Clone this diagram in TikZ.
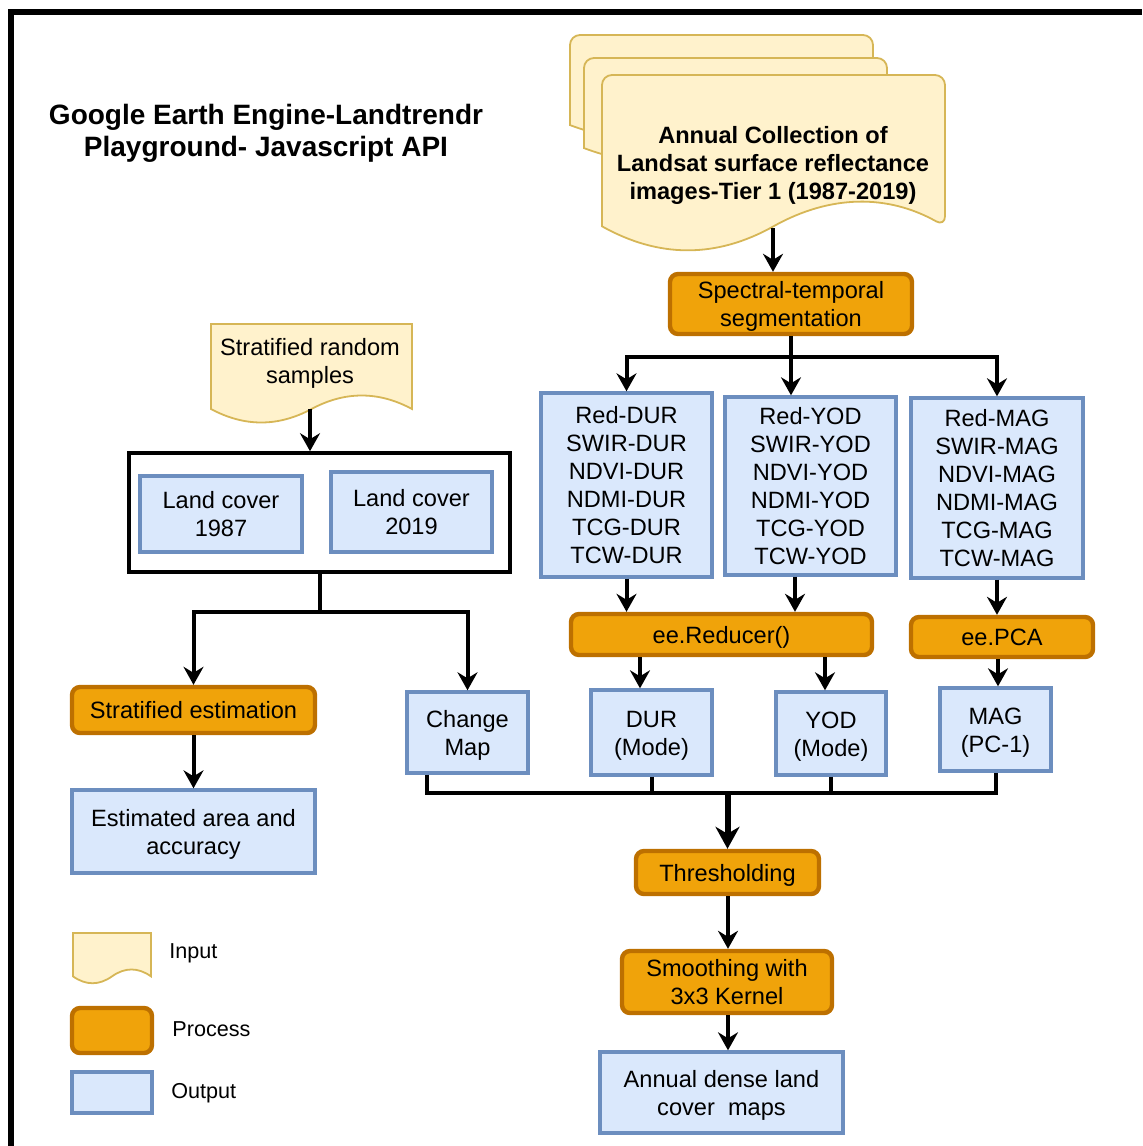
\documentclass[tikz,border=0pt]{standalone}
\usepackage{fontspec}
\setmainfont{Liberation Sans}
\usetikzlibrary{arrows.meta,calc}
\definecolor{inF}{HTML}{FFF2CC}
\definecolor{inD}{HTML}{D6B656}
\definecolor{prF}{HTML}{F0A30A}
\definecolor{prD}{HTML}{BD7000}
\definecolor{ouF}{HTML}{DAE8FC}
\definecolor{ouD}{HTML}{6C8EBF}
% document shape: x, y(top), w, h  (pixel units)
\newcommand\mydocpath[4]{(#1,#2+0.85*#4) [rounded corners=\docr] -- (#1,#2) -- (#1+#3,#2) -- (#1+#3,#2+0.85*#4) [sharp corners] .. controls (#1+5*#3/6,#2+0.67*#4) and (#1+2*#3/3,#2+0.67*#4) .. (#1+#3/2,#2+0.85*#4) .. controls (#1+#3/3,#2+1.03*#4) and (#1+#3/6,#2+1.03*#4) .. (#1,#2+0.85*#4) -- cycle}
\def\docr{0pt}
% text lowered slightly inside its box
\newcommand\tx[1]{\raisebox{-1.5pt}[\height][\depth]{\begin{tabular}{@{}c@{}}#1\end{tabular}}}
\tikzset{
  base/.style={inner sep=0pt, align=center, font=\fontsize{11.8}{14}\selectfont},
  outbox/.style={base, draw=ouD, fill=ouF, line width=1.7pt},
  procbox/.style={base, draw=prD, fill=prF, line width=2.2pt, rounded corners=4pt},
  indoc/.style={draw=inD, fill=inF, line width=0.9pt},
  ln/.style={line width=2pt, black},
  arr/.style={ln, -{Stealth[length=9pt,width=10pt,inset=3pt]}},
  bigarr/.style={line width=3pt, black, -{Stealth[length=11pt,width=12pt,inset=3.5pt]}},
  legtext/.style={anchor=west, inner sep=0pt, font=\fontsize{10.8}{13}\selectfont},
}
\begin{document}
\begin{tikzpicture}[x=0.5pt,y=-0.5pt]
\useasboundingbox (0,0) rectangle (1142,1146);
% frame
\draw[line width=3pt] (11,1146) -- (11,12) -- (1142,12);
% title
\node[base, font=\bfseries\fontsize{14}{16}\selectfont] (title) at (266,133) {Google Earth Engine-Landtrendr\\Playground- Javascript API};
% stacked input documents
\def\docr{5pt}
\draw[indoc] \mydocpath{570}{35}{303}{106};
\draw[indoc] \mydocpath{584}{58}{303}{106};
\draw[indoc] \mydocpath{602}{75}{343}{178};
\def\docr{0pt}
\node[base, font=\bfseries\fontsize{11.8}{14}\selectfont] (coll) at (773,165) {Annual Collection of\\Landsat surface reflectance\\images-Tier 1 (1987-2019)};
\coordinate (collb) at (773,228);
% stratified random samples
\draw[indoc] \mydocpath{211}{324}{201}{100};
\node[base] (srs) at (310,363) {Stratified random\\samples};
\coordinate (srsb) at (310,409);
% process / outputs
\node[procbox, minimum width=121pt, minimum height=30pt] (spec) at (791,304) {\tx{Spectral-temporal\\segmentation}};
\node[outbox, minimum width=85.5pt, minimum height=92pt] (dur) at (626.5,485) {\tx{Red-DUR\\SWIR-DUR\\NDVI-DUR\\NDMI-DUR\\TCG-DUR\\TCW-DUR}};
\node[outbox, minimum width=85.5pt, minimum height=89pt] (yod) at (810.5,486) {\tx{Red-YOD\\SWIR-YOD\\NDVI-YOD\\NDMI-YOD\\TCG-YOD\\TCW-YOD}};
\node[outbox, minimum width=86pt, minimum height=90pt] (mag) at (997,488) {\tx{Red-MAG\\SWIR-MAG\\NDVI-MAG\\NDMI-MAG\\TCG-MAG\\TCW-MAG}};
\node[procbox, minimum width=150.5pt, minimum height=20.5pt] (red) at (721.5,634.5) {\tx{ee.Reducer()}};
\node[procbox, minimum width=91pt, minimum height=20pt] (pca) at (1002,637) {\tx{ee.PCA}};
\node[outbox, minimum width=60.5pt, minimum height=42.5pt] (durm) at (651.5,732.5) {\tx{DUR\\(Mode)}};
\node[outbox, minimum width=55pt, minimum height=41.5pt] (yodm) at (831,733.5) {\tx{YOD\\(Mode)}};
\node[outbox, minimum width=55.5pt, minimum height=41.5pt] (magm) at (995.5,729.5) {\tx{MAG\\(PC-1)}};
\node[outbox, minimum width=60.5pt, minimum height=40.5pt] (chg) at (467.5,732.5) {\tx{Change\\Map}};
\node[procbox, minimum width=91.5pt, minimum height=21.5pt] (thr) at (727.5,872.5) {\tx{Thresholding}};
\node[procbox, minimum width=105pt, minimum height=31pt] (smo) at (727,982) {\tx{Smoothing with\\3x3 Kernel}};
\node[outbox, minimum width=121.5pt, minimum height=40.5pt] (ann) at (721.5,1092.5) {\tx{Annual dense land\\cover\ \ maps}};
% land cover container
\node[base, draw=black, fill=white, line width=1.8pt, minimum width=190.5pt, minimum height=59.5pt] (cont) at (319.5,512.5) {};
\node[outbox, minimum width=81pt, minimum height=38pt] (lc87) at (221,514) {\tx{Land cover\\1987}};
\node[outbox, minimum width=80.5pt, minimum height=40pt] (lc19) at (411.5,512) {\tx{Land cover\\2019}};
\node[procbox, minimum width=121.5pt, minimum height=23pt] (sest) at (193.5,710) {\tx{Stratified estimation}};
\node[outbox, minimum width=121.5pt, minimum height=41.5pt] (earea) at (193.5,831.5) {\tx{Estimated area and\\accuracy}};
% legend
\draw[indoc] \mydocpath{73}{933}{78}{51};
\node[legtext] (lin) at (169,953) {Input};
\node[procbox, minimum width=40pt, minimum height=22.5pt] (lproc) at (112,1030.5) {};
\node[legtext] (lproct) at (172,1029) {Process};
\node[outbox, minimum width=40pt, minimum height=20.5pt] (lout) at (112,1092.5) {};
\node[legtext] (loutt) at (171,1093) {Output};
% helper coordinates
\coordinate (br) at (0,357);
\coordinate (xa) at (795,0);
\coordinate (xb) at (640,0);
\coordinate (xc) at (825,0);
\coordinate (xd) at (427,0);
\coordinate (xe) at (998,0);
\coordinate (xf) at (728,0);
\coordinate (cj) at (0,612);
\coordinate (mj) at (0,793);
% connectors
\draw[arr] (collb) -- (collb |- spec.north);
\draw[arr] (spec.south) -- (spec.south |- br) -| (dur.north);
\draw[arr] (spec.south) -- (spec.south |- yod.north);
\draw[arr] (spec.south) -- (spec.south |- br) -| (mag.north);
\draw[arr] (dur.south) -- (dur.south |- red.north);
\draw[arr] (yod.south -| xa) -- (red.north -| xa);
\draw[arr] (mag.south) -- (mag.south |- pca.north);
\draw[arr] (red.south -| xb) -- (durm.north -| xb);
\draw[arr] (red.south -| xc) -- (yodm.north -| xc);
\draw[arr] (pca.south -| xe) -- (magm.north -| xe);
\draw[arr] (srsb) -- (srsb |- cont.north);
\draw[arr] (cont.south) -- (cont.south |- cj) -| (sest.north);
\draw[arr] (cont.south) -- (cont.south |- cj) -| (chg.north);
\draw[arr] (sest.south) -- (earea.north);
\draw[ln] (chg.south -| xd) -- (xd |- mj) -- (magm.south |- mj) -- (magm.south);
\draw[ln] (durm.south) -- (durm.south |- mj);
\draw[ln] (yodm.south) -- (yodm.south |- mj);
\draw[bigarr] (thr.north |- mj) -- (thr.north);
\draw[arr] (thr.south -| xf) -- (smo.north -| xf);
\draw[arr] (smo.south -| xf) -- (ann.north -| xf);
\end{tikzpicture}
\end{document}
